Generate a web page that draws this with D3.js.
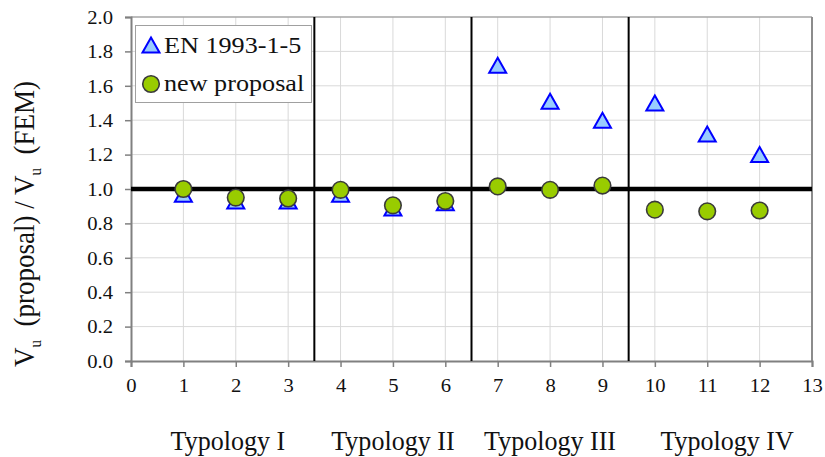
<!DOCTYPE html>
<html>
<head>
<meta charset="utf-8">
<script src="https://cdn.jsdelivr.net/npm/d3@7"></script>
<style>
  body { margin: 0; background: #fff; }
  svg text { font-family: "Liberation Serif", "Times New Roman", Times, serif; fill: #111; }
</style>
</head>
<body>
<div id="chart"></div>
<script>
// data
const cases = [1, 2, 3, 4, 5, 6, 7, 8, 9, 10, 11, 12]
const enValues = [0.97, 0.93, 0.93, 0.97, 0.89, 0.92, 1.72, 1.51, 1.40, 1.50, 1.32, 1.20]
const proposalValues = [1.00, 0.95, 0.945, 0.995, 0.905, 0.93, 1.015, 0.995, 1.02, 0.88, 0.87, 0.875]
const xTicks = d3.range(0, 14)
const yTicks = [0, 0.2, 0.4, 0.6, 0.8, 1.0, 1.2, 1.4, 1.6, 1.8, 2.0]
const groupBounds = [3.5, 6.5, 9.5]
const typologies = ["Typology I", "Typology II", "Typology III", "Typology IV"]
const typologyPos = [1.85, 5.0, 8.0, 11.38]

const width = 825, height = 457
const serif = '"Liberation Serif", "Times New Roman", Times, serif'

// the source picture is a bit stretched sideways, mimic that per text
function stretch(sel, k) {
    sel.each(function () {
        const w = this.getComputedTextLength()
        d3.select(this).attr("textLength", w * k).attr("lengthAdjust", "spacingAndGlyphs")
    })
}

const svg = d3.select("#chart")
    .append("svg")
    .attr("width", width)
    .attr("height", height)
    .attr("font-family", serif)

const x = d3.scaleLinear().domain([0, 13]).range([131, 812])
const y = d3.scaleLinear().domain([0, 2]).range([361, 17])

// gridlines
svg.append("g")
    .selectAll("line")
    .data(xTicks.slice(1))
    .join("line")
    .attr("x1", d => x(d)).attr("x2", d => x(d))
    .attr("y1", y(0)).attr("y2", y(2))
    .attr("stroke", "#d9d9d9").attr("stroke-width", 1)

svg.append("g")
    .selectAll("line")
    .data(yTicks.slice(1))
    .join("line")
    .attr("x1", x(0)).attr("x2", x(13))
    .attr("y1", d => y(d)).attr("y2", d => y(d))
    .attr("stroke", "#d9d9d9").attr("stroke-width", 1)

// plot border (top / right)
svg.append("line")
    .attr("x1", x(0)).attr("x2", x(13)).attr("y1", y(2)).attr("y2", y(2))
    .attr("stroke", "#8c8c8c").attr("stroke-width", 1.2)
svg.append("line")
    .attr("x1", x(13)).attr("x2", x(13)).attr("y1", y(2)).attr("y2", y(0))
    .attr("stroke", "#8c8c8c").attr("stroke-width", 2)

// axes
const xAxis = svg.append("g")
    .attr("transform", `translate(0,${y(0)})`)
    .call(d3.axisBottom(x).tickValues(xTicks).tickSize(6).tickPadding(11).tickFormat(d3.format("d")))
const yAxis = svg.append("g")
    .attr("transform", `translate(${x(0)},0)`)
    .call(d3.axisLeft(y).tickValues(yTicks).tickSize(6).tickPadding(12).tickFormat(d3.format(".1f")))

for (const ax of [xAxis, yAxis]) {
    ax.attr("font-family", serif).attr("font-size", 19.5)
    ax.select(".domain").attr("stroke", "#808080").attr("stroke-width", 2)
    ax.selectAll(".tick line").attr("stroke", "#808080").attr("stroke-width", 1.5)
    ax.selectAll(".tick text").attr("fill", "#111").call(stretch, 1.06)
}

// group separators and reference line
svg.append("g")
    .selectAll("line")
    .data(groupBounds)
    .join("line")
    .attr("x1", d => x(d)).attr("x2", d => x(d))
    .attr("y1", y(2)).attr("y2", y(0))
    .attr("stroke", "#000").attr("stroke-width", 2)

svg.append("line")
    .attr("x1", x(0)).attr("x2", x(13))
    .attr("y1", y(1)).attr("y2", y(1))
    .attr("stroke", "#000").attr("stroke-width", 4.5)

// markers
const triPath = "M0,-7.5L8.5,7.5L-8.5,7.5Z"

svg.append("g")
    .selectAll("path")
    .data(cases)
    .join("path")
    .attr("d", triPath)
    .attr("transform", (d, i) => `translate(${x(d)},${y(enValues[i])})`)
    .attr("fill", "#99ccff")
    .attr("stroke", "#0000ff")
    .attr("stroke-width", 2)

svg.append("g")
    .selectAll("circle")
    .data(cases)
    .join("circle")
    .attr("cx", d => x(d))
    .attr("cy", (d, i) => y(proposalValues[i]))
    .attr("r", 8.3)
    .attr("fill", "#99cc00")
    .attr("stroke", "#3a3a3a")
    .attr("stroke-width", 1.6)

// legend
const legend = svg.append("g")
legend.append("rect")
    .attr("x", 135.5).attr("y", 25.5).attr("width", 176).attr("height", 77)
    .attr("fill", "#fff").attr("stroke", "#a0a0a0").attr("stroke-width", 1)
legend.append("path")
    .attr("d", triPath)
    .attr("transform", "translate(151,45)")
    .attr("fill", "#99ccff").attr("stroke", "#0000ff").attr("stroke-width", 2)
legend.append("circle")
    .attr("cx", 151).attr("cy", 84).attr("r", 8.3)
    .attr("fill", "#99cc00").attr("stroke", "#3a3a3a").attr("stroke-width", 1.6)
legend.append("text")
    .attr("x", 164).attr("y", 53)
    .attr("font-size", 24)
    .text("EN 1993-1-5")
    .call(stretch, 1.09)
legend.append("text")
    .attr("x", 164).attr("y", 91)
    .attr("font-size", 24)
    .text("new proposal")
    .call(stretch, 1.09)

// typology labels
svg.append("g")
    .selectAll("text")
    .data(typologies)
    .join("text")
    .attr("x", (d, i) => x(typologyPos[i]))
    .attr("y", 450)
    .attr("text-anchor", "middle")
    .attr("font-size", 28)
    .text(d => d)
    .call(stretch, 0.93)

// y axis title
const yTitle = svg.append("text")
    .attr("transform", "translate(34,224) scale(1.12,1) rotate(-90)")
    .attr("text-anchor", "middle")
    .attr("font-size", 27)
yTitle.append("tspan").text("V")
yTitle.append("tspan").attr("dy", 6).attr("font-size", 15).text("u")
yTitle.append("tspan").attr("dy", -6).text("\u00a0 (proposal) / V")
yTitle.append("tspan").attr("dy", 6).attr("font-size", 15).text("u")
yTitle.append("tspan").attr("dy", -6).text("\u00a0 (FEM)")
</script>
</body>
</html>
